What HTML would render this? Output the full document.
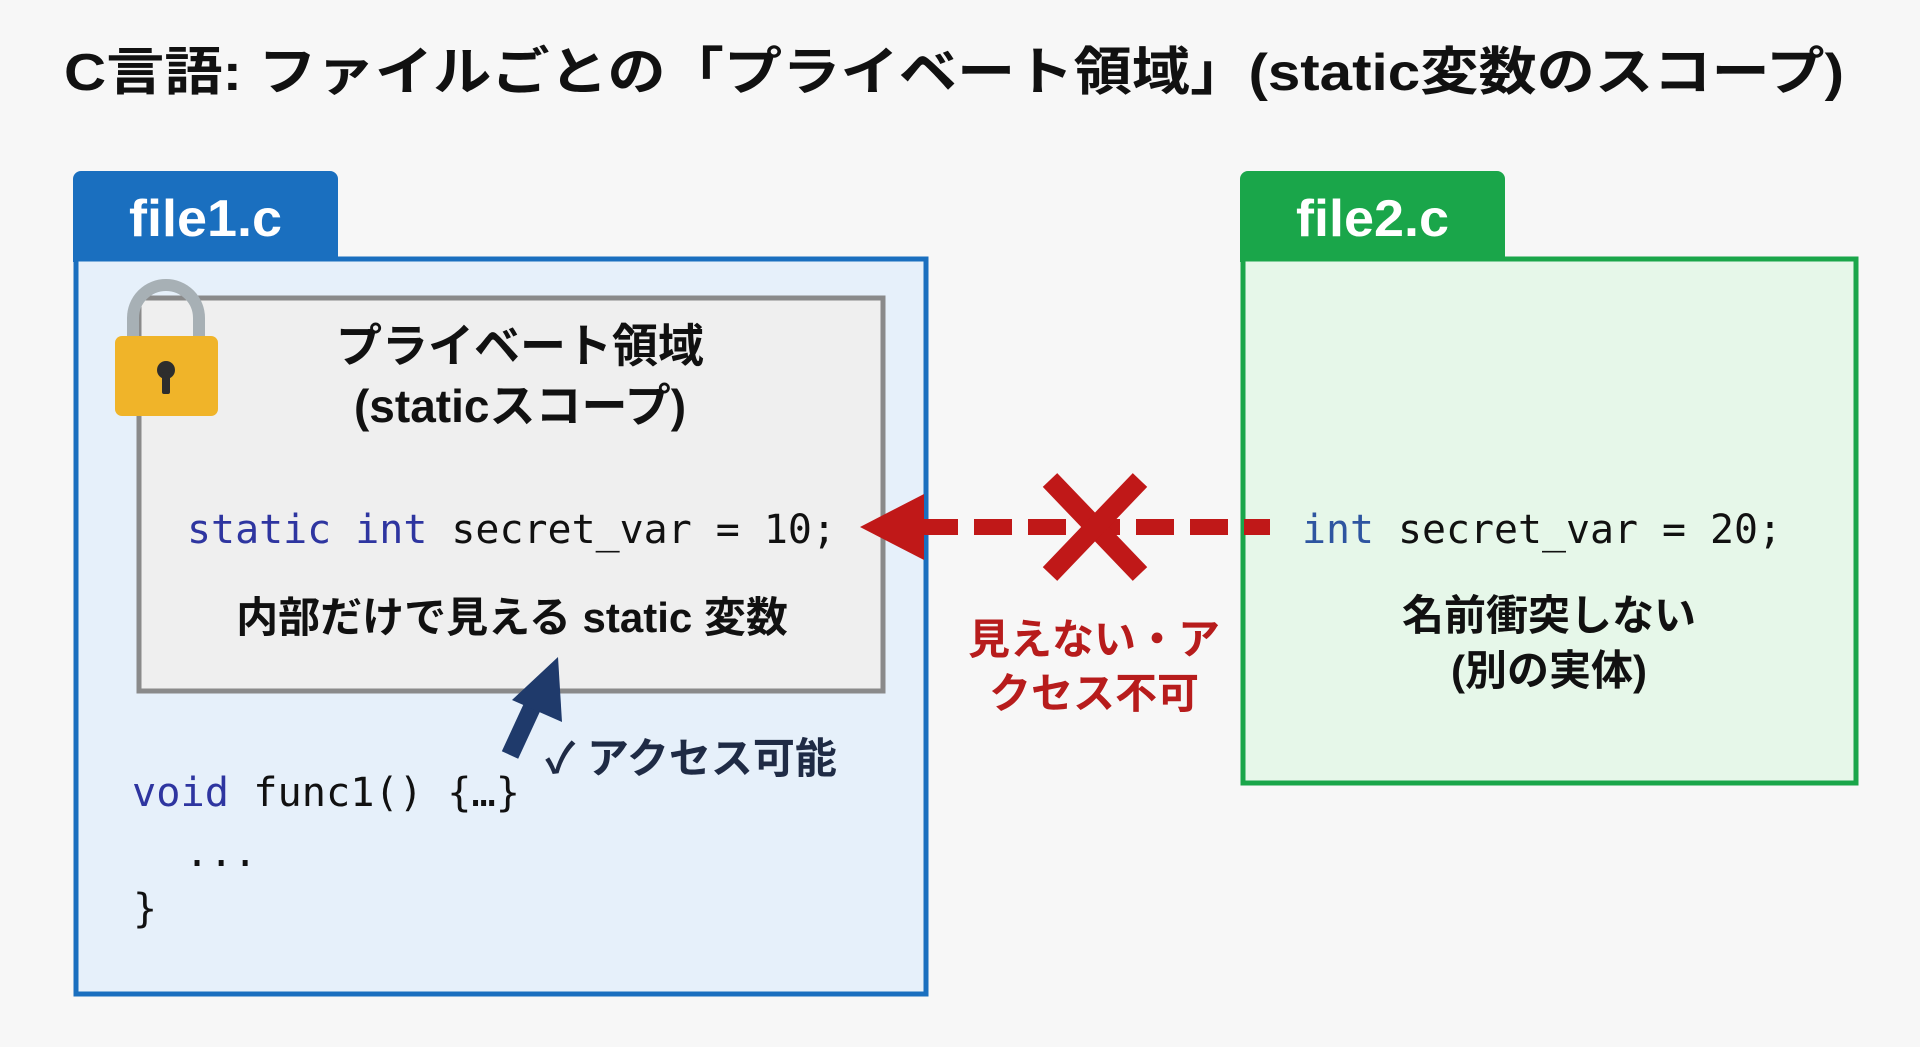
<!DOCTYPE html>
<html><head><meta charset="utf-8"><style>
html,body{margin:0;padding:0;background:#f7f7f7;}
svg{display:block;}
.j{font-family:"Liberation Sans","Noto Sans CJK JP",sans-serif;font-weight:bold;}
.m{font-family:"DejaVu Sans Mono","Liberation Mono",monospace;}
</style></head><body>
<svg width="1920" height="1047" viewBox="0 0 1920 1047" xmlns="http://www.w3.org/2000/svg">
<rect width="1920" height="1047" fill="#f7f7f7"/>
<text x="64" y="90" class="j" font-size="52" fill="#111" textLength="1780" lengthAdjust="spacingAndGlyphs">C言語: ファイルごとの「プライベート領域」(static変数のスコープ)</text>

<!-- file1 -->
<path d="M73 262 V179 a8 8 0 0 1 8 -8 H330 a8 8 0 0 1 8 8 V262 Z" fill="#1a6fbf"/>
<text x="129" y="236" class="j" font-size="52" fill="#fff" textLength="153" lengthAdjust="spacingAndGlyphs">file1.c</text>
<rect x="76" y="259" width="850" height="735" fill="#e6f0fa" stroke="#1a6fbf" stroke-width="5"/>
<rect x="139" y="298" width="744" height="393" fill="#efefef" stroke="#8a8a8a" stroke-width="5"/>
<!-- lock -->
<path d="M133 340 V318 a33 33 0 0 1 66 0 V340" fill="none" stroke="#a7b0b5" stroke-width="12"/>
<rect x="115" y="336" width="103" height="80" rx="7" fill="#f0b429"/>
<circle cx="166" cy="370" r="9" fill="#2d2d2d"/>
<rect x="162" y="372" width="8" height="22" rx="2" fill="#2d2d2d"/>

<text x="520" y="362" text-anchor="middle" class="j" font-size="46" fill="#111">プライベート領域</text>
<text x="520" y="422" text-anchor="middle" class="j" font-size="46" fill="#111">(staticスコープ)</text>
<text x="187" y="543" class="m" font-size="40" fill="#111" textLength="649" lengthAdjust="spacingAndGlyphs"><tspan fill="#2e35a0">static int</tspan> secret_var = 10;</text>
<text x="512" y="632" text-anchor="middle" class="j" font-size="42" fill="#111">内部だけで見える static 変数</text>

<!-- navy arrow -->
<line x1="510" y1="755" x2="540" y2="690" stroke="#1f3a6b" stroke-width="18"/>
<polygon points="558,657 562,722 512,700" fill="#1f3a6b"/>
<text x="545" y="773" class="j" font-size="42" fill="#1f2b45">✓ アクセス可能</text>

<text x="132" y="806" class="m" font-size="40" fill="#111" textLength="388" lengthAdjust="spacingAndGlyphs"><tspan fill="#2e35a0">void</tspan> func1() {…}</text>
<text x="185" y="866" class="m" font-size="40" fill="#111">...</text>
<text x="133" y="922" class="m" font-size="40" fill="#111">}</text>

<!-- file2 -->
<path d="M1240 262 V179 a8 8 0 0 1 8 -8 H1497 a8 8 0 0 1 8 8 V262 Z" fill="#1aa64a"/>
<text x="1296" y="236" class="j" font-size="52" fill="#fff" textLength="153" lengthAdjust="spacingAndGlyphs">file2.c</text>
<rect x="1243" y="259" width="613" height="524" fill="#e6f7e9" stroke="#1aa64a" stroke-width="5"/>
<text x="1302" y="543" class="m" font-size="40" fill="#111" textLength="480" lengthAdjust="spacingAndGlyphs"><tspan fill="#2e55a0">int</tspan> secret_var = 20;</text>
<text x="1549" y="630" text-anchor="middle" class="j" font-size="42" fill="#111">名前衝突しない</text>
<text x="1549" y="685" text-anchor="middle" class="j" font-size="42" fill="#111">(別の実体)</text>

<!-- red dashed arrow -->
<line x1="920" y1="527" x2="1270" y2="527" stroke="#c01818" stroke-width="16" stroke-dasharray="38,16"/>
<polygon points="860,527 924,494 924,560" fill="#c01818"/>
<line x1="1050" y1="480" x2="1140" y2="574" stroke="#c01818" stroke-width="20"/>
<line x1="1140" y1="480" x2="1050" y2="574" stroke="#c01818" stroke-width="20"/>
<text x="1094" y="654" text-anchor="middle" class="j" font-size="42" fill="#b71c1c">見えない・ア</text>
<text x="1094" y="708" text-anchor="middle" class="j" font-size="42" fill="#b71c1c">クセス不可</text>
</svg>
</body></html>
